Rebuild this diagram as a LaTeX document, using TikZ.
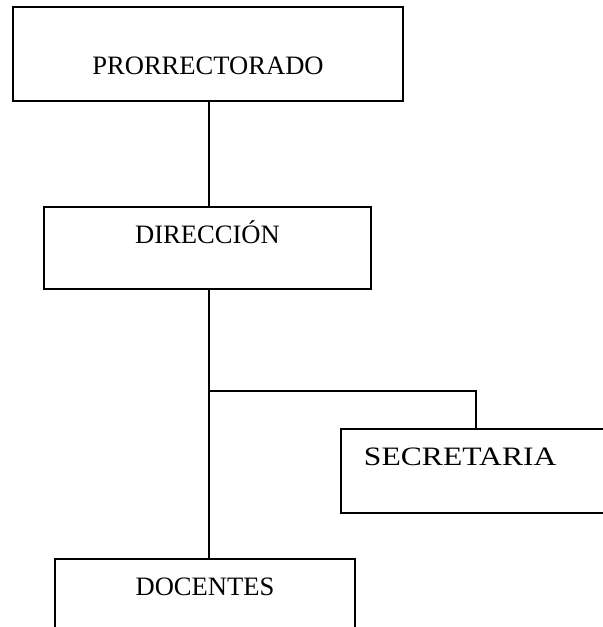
\documentclass[tikz,border=0pt]{standalone}
\usepackage{fontspec}
\setmainfont{Liberation Serif}

\tikzset{
  unit/.style={draw, line width=1.1pt, inner sep=0pt, align=center,
    font=\fontsize{18.9}{22}\selectfont},
}

\begin{document}
\begin{tikzpicture}[x=0.025cm, y=-0.025cm, line width=1.1pt]
    \useasboundingbox (0,0) rectangle (603,627);
    \clip (0,0) rectangle (603,627);
    % top box
    \node[unit, text width=9.75cm, text height=1.675cm, text depth=0.675cm] (prorr) at (208,54) {PRORRECTORADO};
    % second level
    \node[unit, text width=8.175cm, text height=0.9cm, text depth=1.15cm] (dir) at (207.5,248) {DIRECCIÓN};
    % side box, cut by the page
    \node[unit, text width=5.6cm, inner xsep=0.575cm, align=left, text height=0.9cm, text depth=1.2cm] (secr) at (476,471) {\addfontfeature{FakeStretch=1.19}SECRETARIA};
    % bottom box, cut by the page
    \node[unit, text width=7.5cm, text height=0.9cm, text depth=1.15cm] (doc) at (205,600) {DOCENTES};
    % trunk
    \coordinate (junc) at (209,391);
    \draw (prorr.south -| junc) -- (dir.north -| junc);
    \draw (dir.south -| junc) -- (doc.north -| junc);
    \draw (junc) -| (secr.north);
\end{tikzpicture}
\end{document}
